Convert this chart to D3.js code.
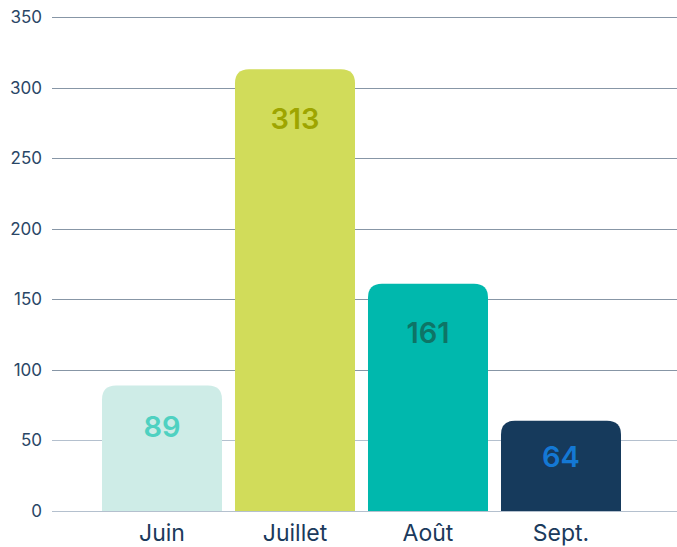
<!DOCTYPE html>
<html>
<head>
<meta charset="utf-8">
<script src="https://cdn.jsdelivr.net/npm/d3@7"></script>
<style>
  body { margin: 0; background: #fff; }
  svg { display: block; font-family: Inter, "Noto Sans", sans-serif; }
</style>
</head>
<body>
<svg width="677" height="547"></svg>
<script>
// data
const months = ["Juin", "Juillet", "Août", "Sept."];
const counts = [89, 313, 161, 64];
const barColors = ["#ceece7", "#d1dc5a", "#00b8ad", "#163a5c"];
const labelColors = ["#4fd1c1", "#9ea500", "#0e7466", "#1478d4"];
const yTicks = [0, 50, 100, 150, 200, 250, 300, 350];

const svg = d3.select('svg');

const yScale = d3.scaleLinear()
  .domain([0, 350])
  .range([511, 17]);

const xScale = d3.scaleBand()
  .domain(months)
  .range([102, 621])
  .paddingInner(0.0977)
  .paddingOuter(0);

// grid lines
svg.append('g').attr('class', 'grid')
  .selectAll('line').data(yTicks).enter()
  .append('line')
  .attr('x1', 52)
  .attr('x2', 677)
  .attr('y1', d => Math.round(yScale(d)) + 0.5)
  .attr('y2', d => Math.round(yScale(d)) + 0.5)
  .style('stroke', d => d <= 50 ? '#b4c0ce' : '#8796a6')
  .style('stroke-width', 1);

// y axis labels (no domain line, no ticks)
const yAxis = d3.axisLeft(yScale)
  .tickValues(yTicks)
  .tickSize(0)
  .tickPadding(0);

svg.append('g').attr('id', 'y-axis')
  .attr('transform', 'translate(42, 0)')
  .call(yAxis)
  .call(g => g.select('.domain').remove())
  .selectAll('text')
  .style('font-family', 'Inter, sans-serif')
  .style('font-size', '17px')
  .style('fill', '#2a4666');

// bars with rounded tops only
const r = 14;
function barPath(d, i) {
  const x0 = xScale(months[i]);
  const x1 = x0 + xScale.bandwidth();
  const y0 = yScale(0);
  const y1 = yScale(d);
  return `M${x0},${y0} V${y1 + r} Q${x0},${y1} ${x0 + r},${y1} H${x1 - r} Q${x1},${y1} ${x1},${y1 + r} V${y0} Z`;
}

svg.append('g').attr('class', 'bars')
  .selectAll('path').data(counts).enter()
  .append('path')
  .attr('d', (d, i) => barPath(d, i))
  .style('fill', (d, i) => barColors[i]);

// value labels inside the bars
svg.append('g').attr('class', 'values')
  .selectAll('text').data(counts).enter()
  .append('text')
  .attr('x', (d, i) => xScale(months[i]) + xScale.bandwidth() / 2)
  .attr('y', d => {
    const h = yScale(0) - yScale(d);
    return yScale(d) + Math.min(49, 22 + h * 0.15);
  })
  .attr('text-anchor', 'middle')
  .attr('dominant-baseline', 'central')
  .style('font-size', '29px')
  .style('font-weight', 600)
  .style('fill', (d, i) => labelColors[i])
  .text(d => d);

// x axis labels
const xAxis = d3.axisBottom(xScale).tickSize(0).tickPadding(0);
svg.append('g').attr('id', 'x-axis')
  .attr('transform', 'translate(0, 525)')
  .call(xAxis)
  .call(g => g.select('.domain').remove())
  .selectAll('text')
  .style('font-family', 'Inter, sans-serif')
  .style('font-size', '23px')
  .style('fill', '#1b3a5c');
</script>
</body>
</html>
